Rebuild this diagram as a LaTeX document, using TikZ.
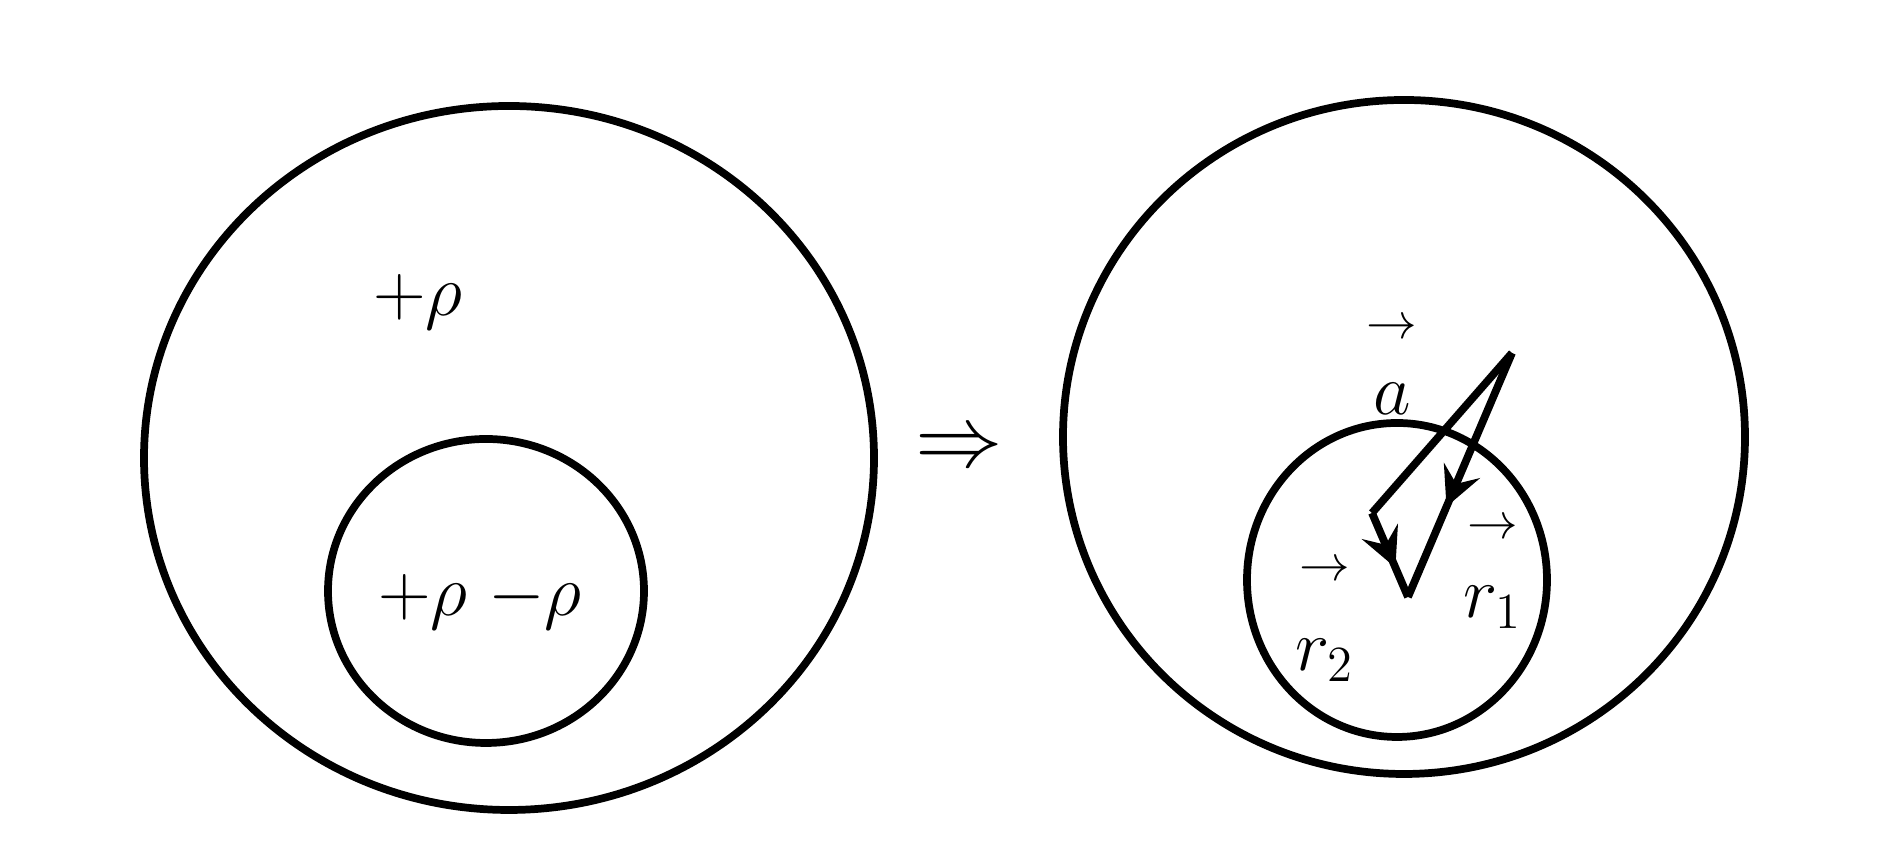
\documentclass[tikz,border=0pt]{standalone}
\usetikzlibrary{decorations.markings}
\tikzset{ln/.style = {line width=2.2pt},
           lb/.style = {inner sep=0pt, font=\fontsize{22}{26}\selectfont},
           vl/.style = {inner sep=0pt, align=center, font=\fontsize{22}{24}\selectfont},
           midarrow/.style = {decoration={markings, mark=at position #1 with {\arrow[scale=1.5]{>}}}, postaction={decorate}}}

\begin{document}
\begin{tikzpicture}[>=stealth]
    \useasboundingbox (0,0) rectangle (19.04,8.44);
    % left: sphere with cavity filled by +rho and -rho
    \draw[ln] (5.09,3.86) ellipse [x radius=3.65, y radius=3.52];
    \draw[ln] (4.86,2.53) ellipse [x radius=1.58, y radius=1.52];
    \node[lb] (rhoout) at (4.18,5.42) {$+\rho$};
    \node[lb] (rhoin) at (4.80,2.43) {${+}\rho\;{-}\rho$};
    \node[font=\fontsize{23}{26}\selectfont, inner sep=0pt] (impl) at (9.59,3.94) {$\Rightarrow$};
    % right: the two spheres and the vectors
    \draw[ln] (14.04,4.07) ellipse [x radius=3.41, y radius=3.37];
    \draw[ln] (13.97,2.64) ellipse [x radius=1.50, y radius=1.57];
    \coordinate (P) at (15.12,4.91);
    \coordinate (Q) at (13.72,3.31);
    \coordinate (O) at (14.08,2.47);
    \draw[ln] (P) -- (Q);
    \draw[ln, midarrow=0.65] (Q) -- (O);
    \draw[ln, midarrow=0.63] (P) -- (O);
    \node[vl] (va) at (13.92,4.77) {$\scriptstyle\rightarrow$\\[-2.5pt]$a$};
    \node[vl] (vr1) at (14.93,2.70) {$\scriptstyle\rightarrow$\\[-1.5pt]$r_1$};
    \node[vl] (vr2) at (13.25,2.22) {$\scriptstyle\rightarrow$\\[1.5pt]$r_2$};
\end{tikzpicture}
\end{document}
